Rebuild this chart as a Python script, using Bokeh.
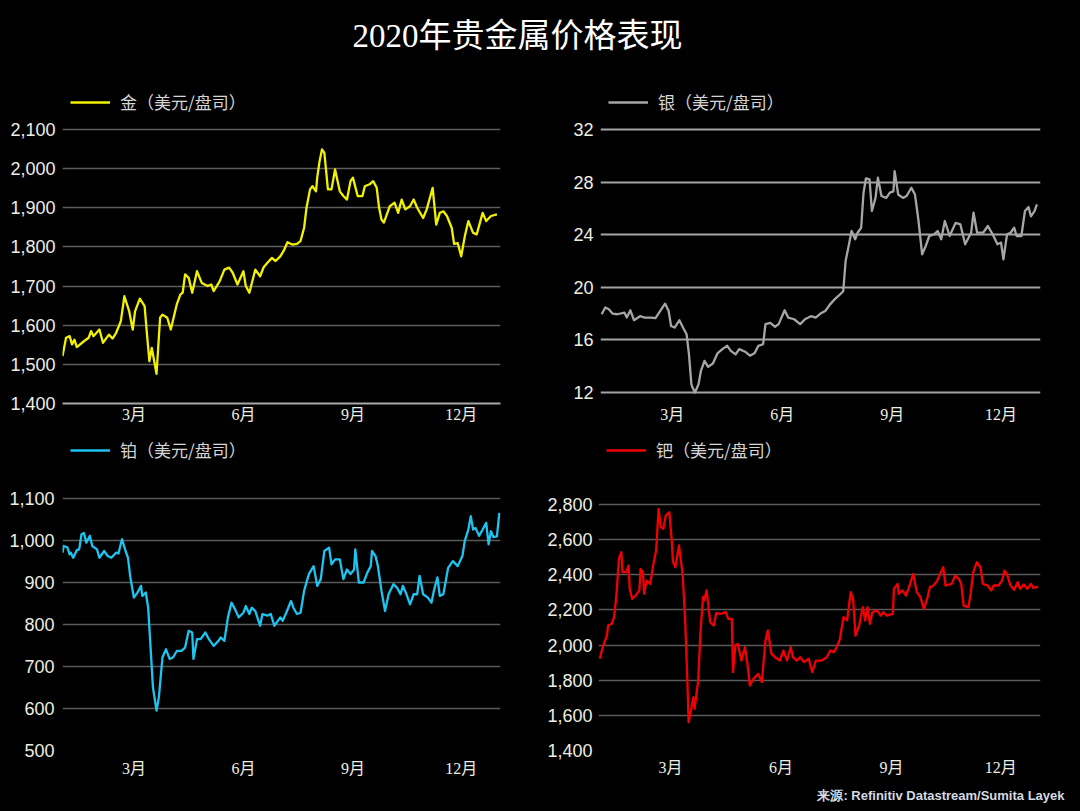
from bokeh.plotting import figure
from bokeh.models import Range1d, FixedTicker, NumeralTickFormatter, Legend, LegendItem, Title
from bokeh.layouts import column, row
from bokeh.embed import file_html
from bokeh.resources import INLINE

TITLE = "2020年贵金属价格表现"
SOURCE = "来源: Refinitiv Datastream/Sumita Layek"
month_ticks = [60, 152, 244, 335]
month_labels = ["3月", "6月", "9月", "12月"]

gold_name = "金（美元/盘司）"
gold_days = [0, 3, 6, 8, 10, 12, 18, 22, 24, 26, 31, 34, 39, 42, 45, 49, 52, 56, 59, 61,
             65, 69, 71, 73, 75, 79, 82, 84, 88, 91, 96, 99, 101, 103, 106, 109, 113, 117, 122, 125,
             127, 132, 136, 140, 143, 147, 152, 154, 157, 162, 166, 169, 172, 176, 179, 183, 186, 189, 193, 197,
             200, 203, 205, 208, 210, 213, 214, 216, 218, 220, 223, 226, 229, 233, 236, 239, 242, 244, 248, 252,
             254, 258, 261, 264, 266, 268, 270, 275, 279, 282, 285, 288, 292, 295, 298, 303, 306, 311, 314, 317,
             320, 323, 327, 329, 332, 335, 338, 341, 345, 348, 353, 356, 360, 365]
gold_usd = [1521, 1568, 1572, 1551, 1563, 1544, 1559, 1568, 1585, 1572, 1589, 1555, 1576, 1566, 1580, 1610, 1674, 1636, 1589, 1636,
            1668, 1649, 1576, 1508, 1542, 1476, 1619, 1627, 1619, 1589, 1653, 1678, 1683, 1730, 1721, 1683, 1738, 1708, 1700, 1704,
            1687, 1712, 1742, 1747, 1734, 1704, 1738, 1700, 1683, 1742, 1725, 1748, 1759, 1772, 1764, 1776, 1791, 1812, 1806, 1808,
            1815, 1849, 1900, 1947, 1955, 1942, 1977, 2019, 2049, 2040, 1947, 1947, 1998, 1942, 1930, 1921, 1968, 1977, 1930, 1930,
            1955, 1960, 1968, 1951, 1900, 1870, 1862, 1904, 1913, 1887, 1921, 1896, 1904, 1921, 1900, 1874, 1896, 1951, 1857, 1887,
            1891, 1879, 1849, 1808, 1810, 1776, 1827, 1866, 1836, 1832, 1887, 1866, 1879, 1883]
gold_ticks = [1400, 1500, 1600, 1700, 1800, 1900, 2000, 2100]

silver_name = "银（美元/盘司）"
silver_days = [1, 4, 7, 10, 14, 20, 22, 25, 28, 33, 37, 42, 46, 50, 54, 57, 59, 62, 66, 69,
               72, 74, 76, 77, 79, 82, 84, 87, 90, 94, 98, 102, 106, 109, 113, 116, 121, 125, 129, 132,
               136, 138, 142, 146, 149, 154, 157, 162, 167, 171, 176, 180, 184, 188, 192, 196, 199, 203, 205, 207,
               210, 213, 215, 218, 220, 222, 225, 227, 230, 232, 235, 239, 242, 245, 246, 249, 253, 256, 260, 263,
               266, 269, 272, 275, 279, 282, 285, 288, 292, 297, 301, 305, 310, 312, 315, 320, 324, 328, 332, 335,
               337, 340, 343, 346, 348, 352, 355, 358, 360, 363, 365]
silver_usd = [17.95, 18.46, 18.33, 18.0, 17.95, 18.08, 17.7, 18.25, 17.5, 17.8, 17.7, 17.7, 17.65, 18.2, 18.76, 18.2, 17.06, 16.94, 17.5, 16.94,
              16.43, 14.9, 12.63, 12.38, 12.0, 12.63, 13.65, 14.4, 13.95, 14.2, 15.0, 15.3, 15.55, 15.17, 14.9, 15.3, 15.1, 14.8, 15.0, 15.55,
              15.67, 17.2, 17.3, 17.0, 17.2, 18.25, 17.7, 17.57, 17.2, 17.57, 17.8, 17.7, 18.0, 18.2, 18.7, 19.1, 19.34, 19.7, 22.0, 22.9,
              24.28, 23.65, 24.15, 24.53, 27.2, 28.28, 28.2, 25.8, 26.8, 28.33, 26.94, 26.8, 27.2, 27.3, 28.84, 27.06, 26.8, 26.94, 27.57, 27.06,
              25.04, 22.5, 23.14, 23.9, 24.03, 24.28, 23.65, 25.04, 23.9, 24.9, 24.78, 23.27, 24.15, 25.67, 24.15, 24.15, 24.66, 24.03, 23.27, 23.4,
              22.13, 24.03, 24.15, 24.53, 23.9, 23.9, 25.8, 26.1, 25.4, 25.8, 26.3]
silver_ticks = [12, 16, 20, 24, 28, 32]

plat_name = "铂（美元/盘司）"
plat_days = [0, 1, 4, 6, 7, 9, 12, 14, 16, 18, 20, 23, 25, 29, 31, 35, 38, 41, 45, 47,
             50, 53, 55, 57, 60, 63, 66, 67, 70, 72, 74, 76, 79, 81, 84, 87, 90, 93, 96, 100,
             103, 106, 109, 110, 113, 116, 120, 123, 127, 131, 133, 136, 139, 142, 145, 148, 152, 154, 157, 159,
             162, 166, 168, 172, 175, 178, 183, 185, 188, 192, 194, 197, 200, 203, 207, 211, 214, 217, 220, 224,
             226, 229, 233, 236, 239, 242, 245, 246, 249, 253, 256, 259, 260, 263, 265, 268, 271, 274, 278, 281,
             284, 286, 289, 292, 295, 298, 300, 303, 307, 310, 312, 315, 317, 320, 324, 328, 332, 336, 338, 341,
             343, 345, 347, 350, 353, 356, 358, 360, 362, 365, 367]
plat_usd = [971, 987, 984, 967, 971, 959, 977, 979, 1015, 1018, 995, 1011, 987, 979, 959, 975, 963, 959, 971, 969,
            1003, 975, 959, 912, 864, 876, 892, 868, 876, 840, 745, 650, 595, 627, 722, 741, 718, 722, 737, 737,
            745, 785, 781, 718, 765, 765, 781, 765, 749, 761, 769, 761, 817, 852, 836, 817, 828, 844, 825, 840,
            832, 797, 825, 821, 825, 797, 817, 809, 828, 856, 840, 825, 828, 880, 920, 939, 892, 908, 975, 983,
            943, 955, 955, 908, 931, 920, 931, 979, 900, 900, 923, 939, 975, 963, 939, 880, 832, 872, 896, 888,
            872, 892, 872, 848, 872, 872, 916, 872, 864, 852, 880, 912, 868, 872, 935, 951, 939, 963, 999, 1026,
            1058, 1026, 1030, 1011, 1026, 1042, 991, 1022, 1008, 1010, 1066]
plat_ticks = [500, 600, 700, 800, 900, 1000, 1100]

pall_name = "钯（美元/盘司）"
pall_days = [1, 4, 7, 8, 11, 13, 15, 17, 19, 20, 23, 25, 26, 28, 31, 34, 35, 37, 38, 40,
             43, 46, 48, 50, 52, 54, 56, 59, 61, 62, 64, 67, 70, 72, 74, 75, 77, 79, 80, 83,
             85, 87, 88, 90, 93, 96, 98, 102, 106, 108, 111, 112, 114, 116, 119, 122, 124, 126, 129, 133,
             136, 139, 141, 144, 147, 151, 154, 157, 160, 162, 165, 168, 171, 175, 178, 181, 186, 190, 193, 196,
             199, 201, 204, 207, 210, 212, 214, 217, 220, 222, 224, 226, 228, 232, 235, 237, 240, 245, 246, 249,
             250, 253, 256, 259, 262, 265, 268, 271, 274, 276, 279, 282, 287, 289, 294, 297, 300, 302, 304, 308,
             310, 312, 315, 318, 320, 324, 327, 329, 333, 336, 338, 340, 343, 346, 349, 351, 354, 357, 360, 362,
             366]
pall_usd = [1922, 1998, 2054, 2111, 2121, 2159, 2292, 2491, 2529, 2415, 2415, 2453, 2320, 2263, 2282, 2311, 2434, 2415, 2292, 2367,
            2348, 2472, 2538, 2775, 2671, 2662, 2737, 2756, 2595, 2472, 2443, 2567, 2405, 2168, 1798, 1561, 1628, 1704, 1637, 1798,
            2083, 2273, 2254, 2311, 2130, 2111, 2182, 2178, 2187, 2149, 2149, 1846, 1998, 2007, 1912, 1988, 1893, 1770, 1808, 1836,
            1789, 2026, 2083, 1950, 1931, 1912, 1969, 1912, 1988, 1931, 1912, 1931, 1903, 1922, 1846, 1912, 1912, 1931, 1969, 1960,
            1998, 2035, 2159, 2140, 2301, 2263, 2054, 2111, 2216, 2140, 2216, 2121, 2187, 2197, 2168, 2187, 2168, 2178, 2320, 2348,
            2292, 2311, 2282, 2339, 2405, 2301, 2273, 2206, 2273, 2330, 2339, 2367, 2443, 2339, 2348, 2396, 2377, 2348, 2225, 2216,
            2301, 2415, 2472, 2443, 2348, 2339, 2311, 2339, 2339, 2367, 2424, 2405, 2339, 2314, 2358, 2320, 2345, 2320, 2348, 2326,
            2333]
pall_ticks = [1400, 1600, 1800, 2000, 2200, 2400, 2600, 2800]

BG = "#000000"
TICK_COLOR = "#eeeee2"
CJK = "Noto Sans CJK SC"
SERIF_CJK = "Liberation Serif, Noto Sans CJK SC"


def panel(name, days, vals, color, ticks, y0, y1, w, h, bl, br, bt, bb,
          grid_color, grid_w, x_standoff, y_standoff, axis_line_color=None):
    p = figure(width=w, height=h, x_range=Range1d(0, 368), y_range=Range1d(y0, y1),
               output_backend="svg", toolbar_location=None,
               background_fill_color=BG, border_fill_color=BG, outline_line_color=None,
               min_border_left=bl, min_border_right=br, min_border_top=bt, min_border_bottom=bb)
    r = p.line(days, vals, line_color=color, line_width=2.3, line_join="round")
    p.xgrid.visible = False
    p.ygrid.grid_line_color = grid_color
    p.ygrid.grid_line_width = grid_w
    p.yaxis.ticker = FixedTicker(ticks=ticks)
    p.yaxis.formatter = NumeralTickFormatter(format="0,0")
    p.xaxis.ticker = FixedTicker(ticks=month_ticks)
    p.xaxis.major_label_overrides = {t: l for t, l in zip(month_ticks, month_labels)}
    for ax in (p.xaxis[0], p.yaxis[0]):
        ax.major_tick_line_color = None
        ax.minor_tick_line_color = None
        ax.major_tick_out = 0
        ax.major_tick_in = 0
    p.yaxis.axis_line_color = None
    p.xaxis.axis_line_color = axis_line_color
    p.xaxis.axis_line_width = 2
    p.yaxis.major_label_text_font = "Liberation Sans"
    p.yaxis.major_label_text_font_size = "18px"
    p.yaxis.major_label_text_color = TICK_COLOR
    p.yaxis.major_label_standoff = y_standoff
    p.xaxis.major_label_text_font = SERIF_CJK
    p.xaxis.major_label_text_font_size = "16px"
    p.xaxis.major_label_text_color = TICK_COLOR
    p.xaxis.major_label_standoff = x_standoff
    leg = Legend(items=[LegendItem(label=name, renderers=[r])], location="top_left",
                 margin=0, padding=8, glyph_width=40, glyph_height=20, label_standoff=10,
                 label_text_font=CJK, label_text_font_size="17px", label_text_color="#d6d6d6",
                 background_fill_alpha=0, border_line_alpha=0)
    p.add_layout(leg)
    return p


# row 1 spans y 75..427, row 2 spans y 427..811
p_gold = panel(gold_name, gold_days, gold_usd, "#f2f200", gold_ticks, 1400, 2222.6,
               530, 352, 62, 30, 6, 24, "#5e5e5e", 1.6, 2, 7, axis_line_color="#a8a8a8")
p_silver = panel(silver_name, silver_days, silver_usd, "#a6a6a6", silver_ticks, 11.163, 35.65,
                 542, 352, 70, 32, 6, 24, "#a4a4a4", 2, 2, 7)
p_plat = panel(plat_name, plat_days, plat_usd, "#1ec4f0", plat_ticks, 500, 1264.3,
               530, 384, 62, 30, 2, 61, "#5a5a5a", 1.6, 9, 8)
p_pall = panel(pall_name, pall_days, pall_usd, "#f00000", pall_ticks, 1400, 3226.8,
               542, 384, 68, 32, 2, 61, "#5a5a5a", 1.6, 8, 6)

src = Title(text=SOURCE, align="right", offset=-24, standoff=15,
            text_font="Liberation Sans", text_font_style="bold", text_font_size="13px",
            text_color="#d4dae0")
p_pall.add_layout(src, "below")

t = figure(width=1072, height=75, output_backend="svg", toolbar_location=None,
           x_axis_location=None, y_axis_location=None,
           background_fill_color=BG, border_fill_color=BG, outline_line_color=None,
           min_border_left=0, min_border_right=0, min_border_top=58, min_border_bottom=0)
t.grid.visible = False
t.title.text = TITLE
t.title.align = "left"
t.title.offset = 352
t.title.text_font = SERIF_CJK
t.title.text_font_size = "33px"
t.title.text_font_style = "normal"
t.title.text_color = "#ffffff"

layout = column(t, row(p_gold, p_silver), row(p_plat, p_pall))
try:
    from bokeh.models import GlobalInlineStyleSheet
    layout.stylesheets = [GlobalInlineStyleSheet(css="html, body { background-color: #000000; }")]
except Exception:
    pass

open("out.html", "w").write(file_html(layout, INLINE))
